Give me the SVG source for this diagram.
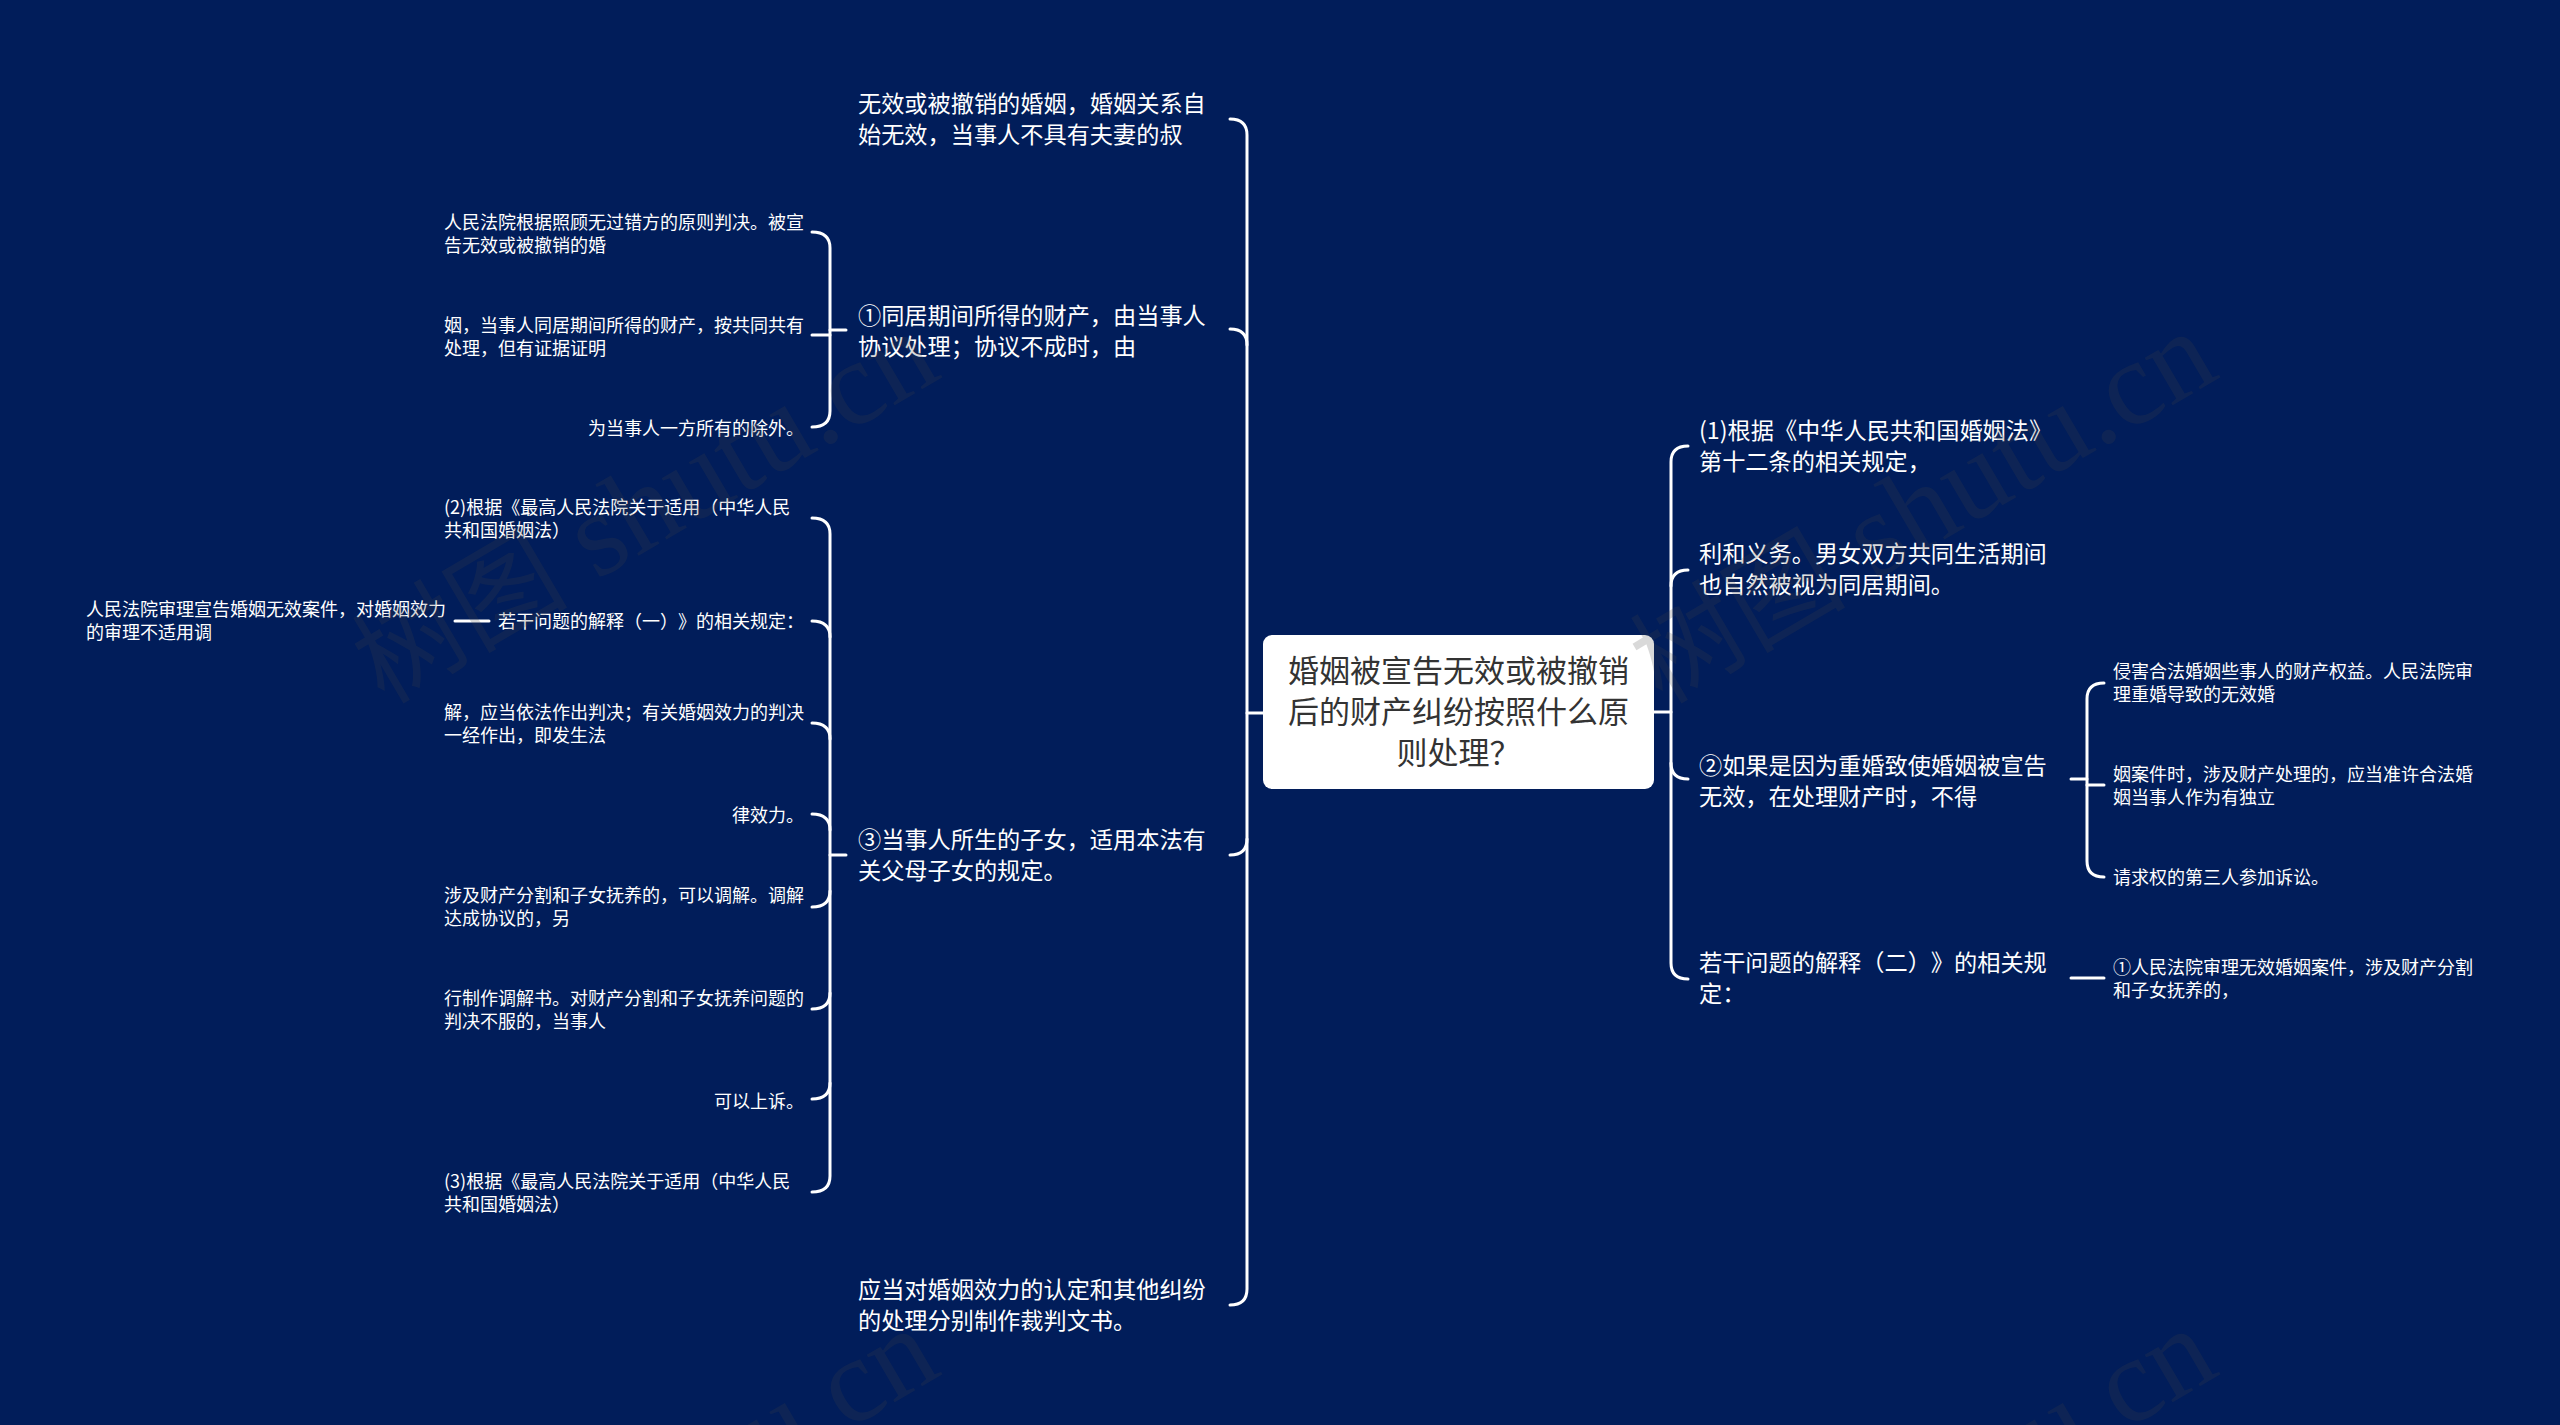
<svg xmlns="http://www.w3.org/2000/svg" width="2560" height="1425" viewBox="0 0 2560 1425">
<style>
text{font-family:"Noto Sans CJK SC","Noto Sans",sans-serif;fill:#fff;text-spacing-trim:space-all;font-feature-settings:"chws" 0}
.root{font-size:31px;fill:#333;text-anchor:middle}
.l1{font-size:23.2px}
.l2{font-size:18px}
.c{fill:none;stroke:#fff;stroke-width:3;stroke-linecap:round}
.wm{font-family:"Liberation Serif","Noto Sans CJK SC",serif;font-size:120px;fill:#444;opacity:.2}
.wm tspan{font-size:108px}
</style>
<rect width="2560" height="1425" fill="#011d5a"/>
<g id="connectors">
<path class="c" d="M1263 713H1247"/>
<path class="c" d="M1230 119Q1247 119 1247 135V1289Q1247 1305 1230 1305"/>
<path class="c" d="M1230 329Q1247 329 1247 345"/>
<path class="c" d="M1230 855Q1247 855 1247 839"/>
<path class="c" d="M846 330H830"/>
<path class="c" d="M812 232Q830 232 830 248V411Q830 427 812 427"/>
<path class="c" d="M812 335H830"/>
<path class="c" d="M846 855H830"/>
<path class="c" d="M812 518Q830 518 830 534V1176Q830 1192 812 1192"/>
<path class="c" d="M812 621Q830 621 830 637"/>
<path class="c" d="M812 723Q830 723 830 739"/>
<path class="c" d="M812 814Q830 814 830 830"/>
<path class="c" d="M812 907Q830 907 830 891"/>
<path class="c" d="M812 1009Q830 1009 830 993"/>
<path class="c" d="M812 1099Q830 1099 830 1083"/>
<path class="c" d="M489 621H455"/>
<path class="c" d="M1654 712H1671"/>
<path class="c" d="M1688 446Q1671 446 1671 462V963Q1671 979 1688 979"/>
<path class="c" d="M1688 570Q1671 570 1671 586"/>
<path class="c" d="M1688 779Q1671 779 1671 763"/>
<path class="c" d="M2071 779H2087"/>
<path class="c" d="M2104 683Q2087 683 2087 699V861Q2087 877 2104 877"/>
<path class="c" d="M2104 785H2087"/>
<path class="c" d="M2071 978H2104"/>
</g>
<g id="root">
<rect x="1263" y="635" width="391" height="154" rx="9" fill="#fff"/>
<text class="root" x="1458.500" y="682">婚姻被宣告无效或被撤销</text>
<text class="root" x="1458.500" y="723">后的财产纠纷按照什么原</text>
<text class="root" x="1458.500" y="764">则处理？</text>
</g>
<g id="n-l1"><text class="l1" x="858" y="112">无效或被撤销的婚姻，婚姻关系自</text><text class="l1" x="858" y="143">始无效，当事人不具有夫妻的叔</text></g>
<g id="n-l2"><text class="l1" x="858" y="324">①同居期间所得的财产，由当事人</text><text class="l1" x="858" y="355">协议处理；协议不成时，由</text></g>
<g id="n-l2a"><text class="l2" x="444" y="229">人民法院根据照顾无过错方的原则判决。被宣</text><text class="l2" x="444" y="252">告无效或被撤销的婚</text></g>
<g id="n-l2b"><text class="l2" x="444" y="332">姻，当事人同居期间所得的财产，按共同共有</text><text class="l2" x="444" y="355">处理，但有证据证明</text></g>
<g id="n-l2c"><text class="l2" x="588" y="435">为当事人一方所有的除外。</text></g>
<g id="n-l3"><text class="l1" x="858" y="848">③当事人所生的子女，适用本法有</text><text class="l1" x="858" y="879">关父母子女的规定。</text></g>
<g id="n-l3a"><text class="l2" x="444" y="514">(2)根据《最高人民法院关于适用（中华人民</text><text class="l2" x="444" y="537">共和国婚姻法）</text></g>
<g id="n-l3b"><text class="l2" x="498" y="628">若干问题的解释（一）》的相关规定：</text></g>
<g id="n-l3b1"><text class="l2" x="86" y="616">人民法院审理宣告婚姻无效案件，对婚姻效力</text><text class="l2" x="86" y="639">的审理不适用调</text></g>
<g id="n-l3c"><text class="l2" x="444" y="719">解，应当依法作出判决；有关婚姻效力的判决</text><text class="l2" x="444" y="742">一经作出，即发生法</text></g>
<g id="n-l3d"><text class="l2" x="732" y="822">律效力。</text></g>
<g id="n-l3e"><text class="l2" x="444" y="902">涉及财产分割和子女抚养的，可以调解。调解</text><text class="l2" x="444" y="925">达成协议的，另</text></g>
<g id="n-l3f"><text class="l2" x="444" y="1005">行制作调解书。对财产分割和子女抚养问题的</text><text class="l2" x="444" y="1028">判决不服的，当事人</text></g>
<g id="n-l3g"><text class="l2" x="714" y="1108">可以上诉。</text></g>
<g id="n-l3h"><text class="l2" x="444" y="1188">(3)根据《最高人民法院关于适用（中华人民</text><text class="l2" x="444" y="1211">共和国婚姻法）</text></g>
<g id="n-l4"><text class="l1" x="858" y="1298">应当对婚姻效力的认定和其他纠纷</text><text class="l1" x="858" y="1329">的处理分别制作裁判文书。</text></g>
<g id="n-r1"><text class="l1" x="1699" y="439">(1)根据《中华人民共和国婚姻法》</text><text class="l1" x="1699" y="470">第十二条的相关规定，</text></g>
<g id="n-r2"><text class="l1" x="1699" y="562">利和义务。男女双方共同生活期间</text><text class="l1" x="1699" y="593">也自然被视为同居期间。</text></g>
<g id="n-r3"><text class="l1" x="1699" y="774">②如果是因为重婚致使婚姻被宣告</text><text class="l1" x="1699" y="805">无效，在处理财产时，不得</text></g>
<g id="n-r3a"><text class="l2" x="2113" y="678">侵害合法婚姻些事人的财产权益。人民法院审</text><text class="l2" x="2113" y="701">理重婚导致的无效婚</text></g>
<g id="n-r3b"><text class="l2" x="2113" y="781">姻案件时，涉及财产处理的，应当准许合法婚</text><text class="l2" x="2113" y="804">姻当事人作为有独立</text></g>
<g id="n-r3c"><text class="l2" x="2113" y="884">请求权的第三人参加诉讼。</text></g>
<g id="n-r4"><text class="l1" x="1699" y="971">若干问题的解释（二）》的相关规</text><text class="l1" x="1699" y="1002">定：</text></g>
<g id="n-r4a"><text class="l2" x="2113" y="974">①人民法院审理无效婚姻案件，涉及财产分割</text><text class="l2" x="2113" y="997">和子女抚养的，</text></g>
<g id="watermarks">
<text class="wm" transform="translate(384 705) rotate(-30.4)"><tspan>树图</tspan> shutu.cn</text>
<text class="wm" transform="translate(1662 705) rotate(-30.4)"><tspan>树图</tspan> shutu.cn</text>
<text class="wm" transform="translate(384 1702) rotate(-30.4)"><tspan>树图</tspan> shutu.cn</text>
<text class="wm" transform="translate(1662 1702) rotate(-30.4)"><tspan>树图</tspan> shutu.cn</text>
</g>
</svg>
